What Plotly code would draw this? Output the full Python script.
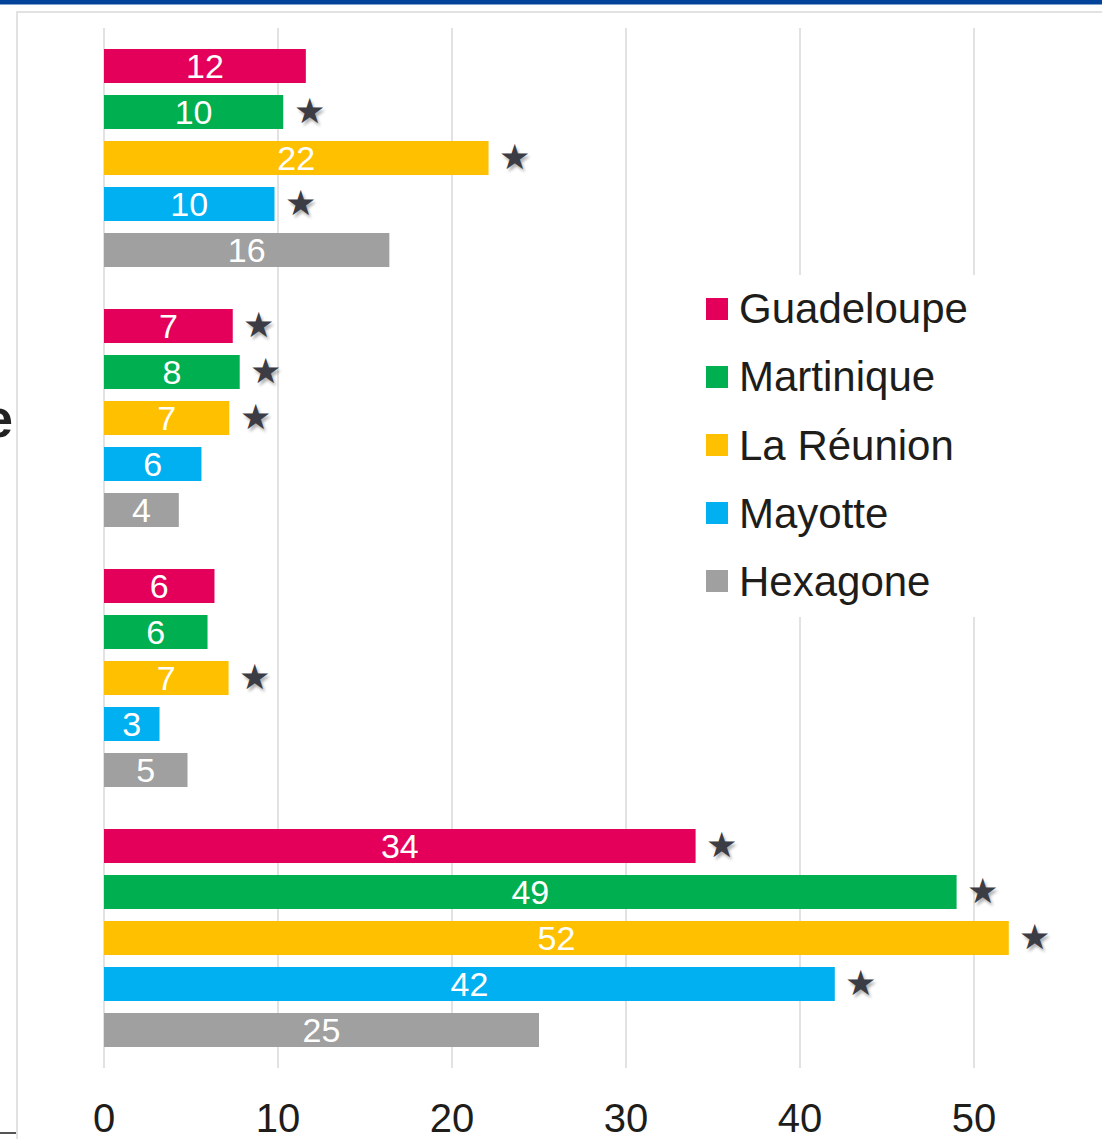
import plotly.graph_objects as go

# ---------------- data ----------------
categories = ["Groupe A", "Groupe B", "Groupe C", "Groupe D"]
series_names = ["Guadeloupe", "Martinique", "La Réunion", "Mayotte", "Hexagone"]
guadeloupe = [11.6, 7.4, 6.35, 34.0]
martinique = [10.3, 7.8, 5.95, 49.0]
reunion = [22.1, 7.2, 7.16, 52.0]
mayotte = [9.8, 5.6, 3.19, 42.0]
hexagone = [16.4, 4.3, 4.8, 25.0]
stars_guadeloupe = [0, 1, 0, 1]
stars_martinique = [1, 1, 0, 1]
stars_reunion = [1, 1, 1, 1]
stars_mayotte = [1, 0, 0, 1]
stars_hexagone = [0, 0, 0, 0]
x_ticks = [0, 10, 20, 30, 40, 50]

values = [guadeloupe, martinique, reunion, mayotte, hexagone]
stars = [stars_guadeloupe, stars_martinique, stars_reunion, stars_mayotte, stars_hexagone]
colors = ["#E4005A", "#00AF50", "#FFC000", "#00B0F0", "#A0A0A0"]

# ---------------- layout geometry ----------------
W, H = 1102, 1139
L, R, T, B = 104, 0, 28, 71
PW, PH = W - L - R, H - T - B
PX_PER_UNIT = 17.4
SLOT = 46  # px per bar slot


def px(xp):
    return (xp - L) / PW


def py(yp):
    return 1 - (yp - T) / PH


FONT = "Liberation Sans, Arial, sans-serif"
TEXT_COL = "#1E1D1A"

fig = go.Figure()
for name, vals, col in zip(series_names, values, colors):
    fig.add_trace(go.Bar(
        y=categories, x=vals, name=name, orientation="h",
        marker=dict(color=col, line=dict(width=0)),
        text=[f"{round(v)}" for v in vals],
        textposition="inside", insidetextanchor="middle", textangle=0,
        constraintext="none", cliponaxis=False,
        textfont=dict(family=FONT, size=34, color="white"),
        showlegend=False, hoverinfo="skip",
    ))

annotations = []
shapes = []

# significance stars
n = len(series_names)
for i, (vals, st) in enumerate(zip(values, stars)):
    for c, v, s in zip(categories, vals, st):
        if s:
            annotations.append(dict(
                x=v, y=c, xref="x", yref="y", text="★", showarrow=False,
                xanchor="center", yanchor="middle",
                xshift=26, yshift=-(i - (n - 1) / 2) * SLOT + 1,
                font=dict(family="DejaVu Sans", size=35, color="#3C3C44",
                          shadow="2px 3px 3px rgba(0,0,0,0.3)"),
            ))

# frame / decorations
shapes.append(dict(type="rect", xref="paper", yref="paper",
                   x0=px(-5), x1=px(W + 5), y0=py(-5), y1=py(4.5),
                   fillcolor="#03449A", line=dict(width=0), layer="above"))
shapes.append(dict(type="line", xref="paper", yref="paper",
                   x0=px(16), x1=px(W + 5), y0=py(12), y1=py(12),
                   line=dict(color="#E2E2E2", width=2)))
shapes.append(dict(type="line", xref="paper", yref="paper",
                   x0=px(17), x1=px(17), y0=py(12), y1=py(H + 5),
                   line=dict(color="#E2E2E2", width=2)))
shapes.append(dict(type="line", xref="paper", yref="paper",
                   x0=px(-5), x1=px(16), y0=py(1133), y1=py(1133),
                   line=dict(color="#555555", width=2)))

# legend background (covers gridlines)
shapes.append(dict(type="rect", xref="paper", yref="paper",
                   x0=px(690), x1=px(1010), y0=py(275), y1=py(617),
                   fillcolor="white", line=dict(width=0), layer="above"))

leg_y = [309, 377, 445, 513, 581]
for name, col, yy in zip(series_names, colors, leg_y):
    shapes.append(dict(type="rect", xref="paper", yref="paper",
                       x0=px(706), x1=px(728), y0=py(yy - 11), y1=py(yy + 11),
                       fillcolor=col, line=dict(width=0), layer="above"))
    annotations.append(dict(
        x=px(737), y=py(yy), xref="paper", yref="paper", text=name,
        showarrow=False, xanchor="left", yanchor="middle",
        font=dict(family=FONT, size=42, color=TEXT_COL),
    ))

# cut-off category label fragment at left edge
annotations.append(dict(
    x=px(15), y=categories[1], xref="paper", yref="y", text="<b>e</b>",
    showarrow=False, xanchor="right", yanchor="middle",
    font=dict(family=FONT, size=54, color="#222222"),
))

fig.update_layout(
    width=W, height=H,
    margin=dict(l=L, r=R, t=T, b=B, pad=0, autoexpand=False),
    paper_bgcolor="white", plot_bgcolor="white",
    barmode="group", bargap=30 / 260, bargroupgap=12 / 46,
    xaxis=dict(range=[0, PW / PX_PER_UNIT], tickvals=x_ticks,
               showgrid=True, gridcolor="#E2E2E2", gridwidth=2,
               zeroline=True, zerolinecolor="#E2E2E2", zerolinewidth=2,
               showline=False, ticks="", ticklabelstandoff=23,
               tickfont=dict(family=FONT, size=40, color=TEXT_COL),
               fixedrange=True),
    yaxis=dict(categoryorder="array", categoryarray=categories,
               range=[len(categories) - 0.5, -0.5], showticklabels=False,
               showgrid=False, zeroline=False, showline=False, ticks="",
               fixedrange=True),
    shapes=shapes, annotations=annotations,
    showlegend=False,
)

fig.write_html(
    "out.html",
    config={"displayModeBar": False},
    post_script="document.body.style.margin='0';document.body.style.overflow='hidden';",
)
